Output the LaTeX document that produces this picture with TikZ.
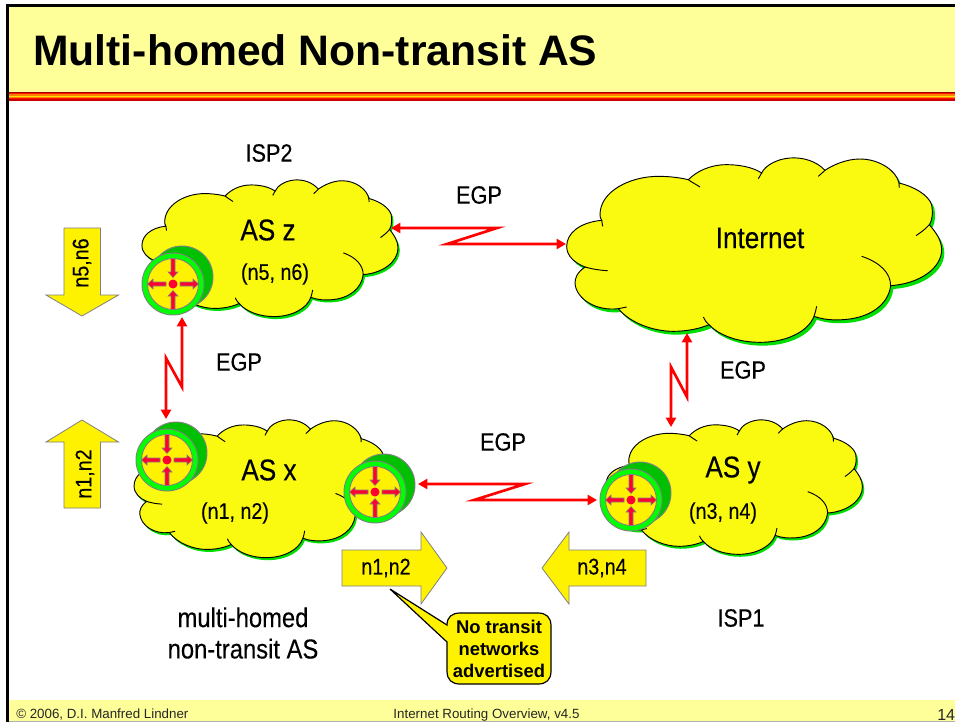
\documentclass[tikz,border=0pt]{standalone}
\usepackage{fontspec}
\setmainfont{Liberation Sans}
\newfontfamily\labelfont[FakeStretch=0.87,FakeBold=0.25]{Liberation Sans}
\usetikzlibrary{arrows.meta}
\definecolor{headyellow}{HTML}{FFFF99}
\definecolor{cloudyellow}{HTML}{FAFA10}
\definecolor{cloudshade}{HTML}{00DD00}
\definecolor{routerback}{HTML}{00C000}
\definecolor{routerring}{HTML}{00FF00}
\definecolor{routerred}{HTML}{FF0033}
\def\cloudoutline{(125,172) .. controls (60,178) and (20,210) .. (20,250) .. controls (20,280) and (45,300) .. (75,312)
 .. controls (50,330) and (45,345) .. (45,362) .. controls (50,410) and (110,445) .. (175,437)
 .. controls (210,480) and (280,505) .. (340,505) .. controls (380,505) and (420,497) .. (447,485)
 .. controls (480,520) and (540,538) .. (600,538) .. controls (680,538) and (745,505) .. (762,460)
 .. controls (790,470) and (820,472) .. (850,470) .. controls (930,465) and (985,425) .. (992,368)
 .. controls (1080,362) and (1145,315) .. (1145,260) .. controls (1145,230) and (1125,205) .. (1108,185)
 .. controls (1120,165) and (1118,145) .. (1115,125) .. controls (1105,95) and (1060,70) .. (1017,60)
 .. controls (1010,25) and (960,-12) .. (900,-12) .. controls (860,-12) and (820,5) .. (795,22)
 .. controls (770,-5) and (730,-18) .. (690,-15) .. controls (650,-12) and (615,8) .. (605,30)
 .. controls (575,10) and (530,5) .. (500,5) .. controls (450,5) and (410,25) .. (385,50)
 .. controls (350,42) and (320,40) .. (295,40) .. controls (210,40) and (120,85) .. (120,155) .. controls (120,160) and (121,166) .. (125,172) -- cycle}
\tikzset{
  labeltext/.style={font=\labelfont\fontsize{18.7}{23}\selectfont,align=center,inner sep=0pt},
  astext/.style={font=\labelfont\fontsize{22.5}{26}\selectfont,inner sep=0pt},
  nettext/.style={font=\labelfont\fontsize{17}{20}\selectfont,inner sep=0pt},
  foottext/.style={font=\fontsize{10}{12}\selectfont,inner sep=0pt,text=black!85},
  egpline/.style={red,line width=2pt,{Triangle[length=7pt,width=7.5pt]}-{Triangle[length=7pt,width=7.5pt]}},
  blockarrow/.style={fill=yellow,draw=black!50,line width=0.6pt},
  routerarrow/.style={fill=routerred,draw=black!50,line width=0.4pt},
  pics/cloud/.style={code={
    \fill[cloudshade,shift={(8,10)}] \cloudoutline;
    \filldraw[fill=cloudyellow,draw=black,line width=0.7pt] \cloudoutline;
    \draw[line width=0.7pt] (125,172) -- (128,190)
      (75,312) .. controls (95,318) and (120,322) .. (143,323)
      (175,437) -- (200,432)
      (447,485) .. controls (438,478) and (434,470) .. (430,462)
      (762,460) .. controls (766,450) and (768,440) .. (770,430)
      (992,368) .. controls (992,330) and (960,298) .. (905,280)
      (1108,185) .. controls (1095,200) and (1080,210) .. (1068,218)
      (1017,60) -- (1018,74)
      (795,22) -- (775,40)
      (605,30) -- (595,47)
      (385,50) .. controls (395,58) and (410,65) .. (420,72);
  }},
  pics/router/.style={code={
    \fill[routerback] (19,24.5) -- (28,17.5) -- (-10,-31.5) -- (-19,-24.5) -- cycle;
    \filldraw[fill=routerback,draw=black!50,line width=0.7pt] (9,-7) circle (31);
    \filldraw[fill=routerring,draw=black!50,line width=0.7pt] (0,0) circle (31);
    \filldraw[fill=yellow,draw=black!50,line width=0.7pt] (0,0) circle (25.5);
    \foreach \a in {0,180}
      \filldraw[routerarrow,rotate=\a] (7,-2) -- (20,-2) -- (20,-5) -- (25.5,0) -- (20,5) -- (20,2) -- (7,2) -- cycle;
    \foreach \a in {90,270}
      \filldraw[routerarrow,rotate=\a] (25.5,-2) -- (12,-2) -- (12,-5) -- (6.5,0) -- (12,5) -- (12,2) -- (25.5,2) -- cycle;
    \fill[routerred] (0,0) circle (4.5);
  }}
}
\begin{document}
\begin{tikzpicture}[x=0.75pt,y=-0.75pt]
\useasboundingbox (0,0) rectangle (955,722);
\fill[white] (0,0) rectangle (955,722);

% frame
\fill[headyellow] (8,6) rectangle (955,92);
\fill[headyellow] (8,700) rectangle (955,722);
\fill[black!30] (8,720.5) rectangle (955,722);
\foreach \i/\c in {0/black!40!red,1/red!85!orange,2/orange,3/yellow!85!orange,4/orange,5/red!85!orange,6/black!20!red}
  \fill[\c] (6,92+1.2*\i) rectangle (955,93.3+1.2*\i);
\fill[black] (6,4) rectangle (955,7);
\fill[black] (6,4) rectangle (8.5,722);
\node[anchor=base west,inner sep=0pt,font=\bfseries\fontsize{32}{36}\selectfont] (title) at (33,65) {Multi-homed Non-transit AS};
\node[foottext,anchor=base west] (footleft) at (16,718) {© 2006, D.I. Manfred Lindner};
\node[foottext,anchor=base] (footmid) at (486.5,718) {Internet Routing Overview, v4.5};
\node[foottext,anchor=base west,font=\fontsize{12}{14}\selectfont] (footpage) at (937,720) {14};

% clouds
\foreach \px/\py/\sx/\sy in {137.4/183.7/.2276/.247, 560/163/.3333/.3333, 129.5/423.7/.2276/.249, 601.4/423.6/.228/.243}
  \pic[xscale=\sx,yscale=\sy] at (\px,\py) {cloud};

% routers
\foreach \rx/\ry in {173/284, 167/460, 375/492, 631/500}
  \pic at (\rx,\ry) {router};

% connector ends
\coordinate (zeast) at (391,228);
\coordinate (zzig) at (497,228);
\coordinate (netzig) at (447,244);
\coordinate (netwest) at (566,244);
\coordinate (zsouth) at (182,317);
\coordinate (zlow) at (182,387);
\coordinate (xhigh) at (166,358);
\coordinate (xnorth) at (166,419);
\coordinate (netsouth) at (687,333);
\coordinate (netlow) at (687,397);
\coordinate (yhigh) at (671,367);
\coordinate (ynorth) at (671,427);
\coordinate (xeast) at (418,484);
\coordinate (xzig) at (525,484);
\coordinate (yzig) at (474,500);
\coordinate (ywest) at (597,500);
\draw[egpline] (zeast) -- (zzig) -- (netzig) -- (netwest);
\draw[egpline] (zsouth) -- (zlow) -- (xhigh) -- (xnorth);
\draw[egpline] (netsouth) -- (netlow) -- (yhigh) -- (ynorth);
\draw[egpline] (xeast) -- (xzig) -- (yzig) -- (ywest);

% block arrows
\filldraw[blockarrow] (64,228) -- (100.5,228) -- (100.5,295) -- (118.5,295) -- (82,316) -- (46,295) -- (64,295) -- cycle;
\filldraw[blockarrow] (64,508) -- (100.5,508) -- (100.5,442) -- (118.5,442) -- (82,420) -- (46,442) -- (64,442) -- cycle;
\filldraw[blockarrow] (342,550) -- (421,550) -- (421,532) -- (447,568) -- (421,604) -- (421,586) -- (342,586) -- cycle;
\filldraw[blockarrow] (646,550) -- (569,550) -- (569,532) -- (542,568) -- (569,604) -- (569,586) -- (646,586) -- cycle;
\node[nettext,rotate=90] (downnets) at (82,263) {n5,n6};
\node[nettext,rotate=90] (upnets) at (85,474) {n1,n2};
\node[nettext] (rightnets) at (386,568) {n1,n2};
\node[nettext] (leftnets) at (602,568) {n3,n4};

% callout
\filldraw[fill=yellow,draw=black,line width=0.9pt] (390,589) -- (447,625) .. controls (447,617) and (452,613) .. (460,613) -- (538,613) .. controls (546,613) and (551,617) .. (551,626) -- (551,671) .. controls (551,680) and (546,684) .. (538,684) -- (460,684) .. controls (452,684) and (447,680) .. (447,671) -- (447,642) -- cycle;
\node[font=\bfseries\fontsize{13.8}{16.5}\selectfont,align=center,inner sep=0pt] (notransit) at (499,649) {No transit\\networks\\advertised};

% labels
\node[astext] (asz) at (268,230) {AS z};
\node[astext] (asx) at (269,470) {AS x};
\node[astext] (asy) at (733,470) {AS y};
\node[astext] (internet) at (760,238) {Internet};
\node[nettext] (znets) at (275,274) {(n5, n6)};
\node[nettext] (xnets) at (235,513) {(n1, n2)};
\node[nettext] (ynets) at (723,513) {(n3, n4)};
\node[labeltext] (isptwo) at (269,153) {ISP2};
\node[labeltext] (ispone) at (741,618) {ISP1};
\node[labeltext,font=\labelfont\fontsize{20.5}{23.5}\selectfont] (multihomed) at (243,633) {multi-homed\\non-transit AS};
\node[labeltext] (egptop) at (479,195) {EGP};
\node[labeltext] (egpleft) at (239,362) {EGP};
\node[labeltext] (egpright) at (743,370) {EGP};
\node[labeltext] (egpbottom) at (503,442) {EGP};
\end{tikzpicture}
\end{document}
